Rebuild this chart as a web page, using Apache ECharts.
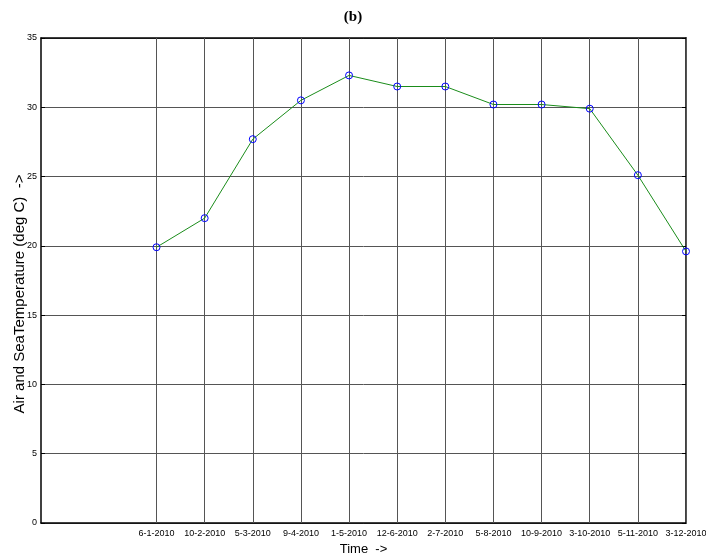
<!DOCTYPE html>
<html><head><meta charset="utf-8">
<script src="https://cdn.jsdelivr.net/npm/echarts@6/dist/echarts.min.js"></script>
<style>html,body{margin:0;padding:0;background:#fff}#c{width:706px;height:560px}</style>
</head><body><div id="c"></div>
<script>
var categories = ['6-1-2010','10-2-2010','5-3-2010','9-4-2010','1-5-2010','12-6-2010','2-7-2010','5-8-2010','10-9-2010','3-10-2010','5-11-2010','3-12-2010'];
var temperature = [19.9, 22.0, 27.7, 30.5, 32.3, 31.5, 31.5, 30.2, 30.2, 29.9, 25.1, 19.6];
var yTicks = [0, 5, 10, 15, 20, 25, 30, 35];

var idx = categories.map(function(_, i){ return i; });
var data = temperature.map(function(v, i){ return [i, v]; });
var font = 'Liberation Sans';
var chart = echarts.init(document.getElementById('c'));
var xCommon = {
  type: 'value', min: -2.4, max: categories.length - 1,
  axisLine: {show: true, onZero: false, lineStyle: {color: '#000', width: 1.5}},
  splitLine: {show: false}
};
chart.setOption({
  animation: false,
  title: {text: '(b)', left: 'center', top: 5, textStyle: {fontFamily: 'Liberation Serif', fontWeight: 'bold', fontSize: 15, color: '#000'}},
  graphic: [{
    type: 'text', x: 19.5, y: 294, rotation: Math.PI / 2,
    style: {text: 'Air and SeaTemperature (deg C)  ->', fontFamily: font, fontSize: 15, fill: '#000', align: 'center', verticalAlign: 'middle'}
  }],
  grid: {left: 41, right: 20, top: 38, bottom: 37, containLabel: false, outerBoundsMode: 'none'},
  xAxis: [
    Object.assign({}, xCommon, {
      position: 'bottom',
      name: 'Time  ->', nameLocation: 'middle', nameGap: 20,
      nameTextStyle: {fontFamily: font, fontSize: 13, color: '#000'},
      axisTick: {show: true, inside: true, length: 4, customValues: idx, lineStyle: {color: '#000'}},
      axisLabel: {show: true, customValues: idx, fontFamily: font, fontSize: 9, color: '#000', margin: 6, hideOverlap: false,
        formatter: function(v){ return categories[Math.round(v)]; }}
    }),
    Object.assign({}, xCommon, {
      position: 'top',
      axisTick: {show: true, inside: true, length: 4, customValues: idx, lineStyle: {color: '#000'}},
      axisLabel: {show: false}
    })
  ],
  yAxis: [
    {type: 'value', min: 0, max: 35, interval: 5, position: 'left',
      axisLine: {show: true, onZero: false, lineStyle: {color: '#000', width: 1.5}},
      axisTick: {show: true, inside: true, length: 4, lineStyle: {color: '#000'}},
      axisLabel: {fontFamily: font, fontSize: 9, color: '#000', margin: 4,
        formatter: function(v){ return yTicks.indexOf(v) >= 0 ? String(v) : ''; }},
      splitLine: {show: true, lineStyle: {color: '#555', width: 1}}
    },
    {type: 'value', min: 0, max: 35, interval: 5, position: 'right',
      axisLine: {show: true, onZero: false, lineStyle: {color: '#000', width: 1.5}},
      axisTick: {show: true, inside: true, length: 4, lineStyle: {color: '#000'}},
      axisLabel: {show: false}, splitLine: {show: false}
    }
  ],
  series: [
    {type: 'line', data: data, xAxisIndex: 0, yAxisIndex: 0,
      symbol: 'circle', symbolSize: 7, showAllSymbol: true,
      lineStyle: {color: '#1a8c1a', width: 1},
      itemStyle: {color: 'rgba(255,255,255,0)', borderColor: '#0000ff', borderWidth: 1},
      markLine: {silent: true, symbol: 'none', label: {show: false},
        lineStyle: {color: '#555', width: 1, type: 'solid'},
        data: idx.map(function(i){ return {xAxis: i}; })},
      z: 5
    }
  ]
});
</script></body></html>
